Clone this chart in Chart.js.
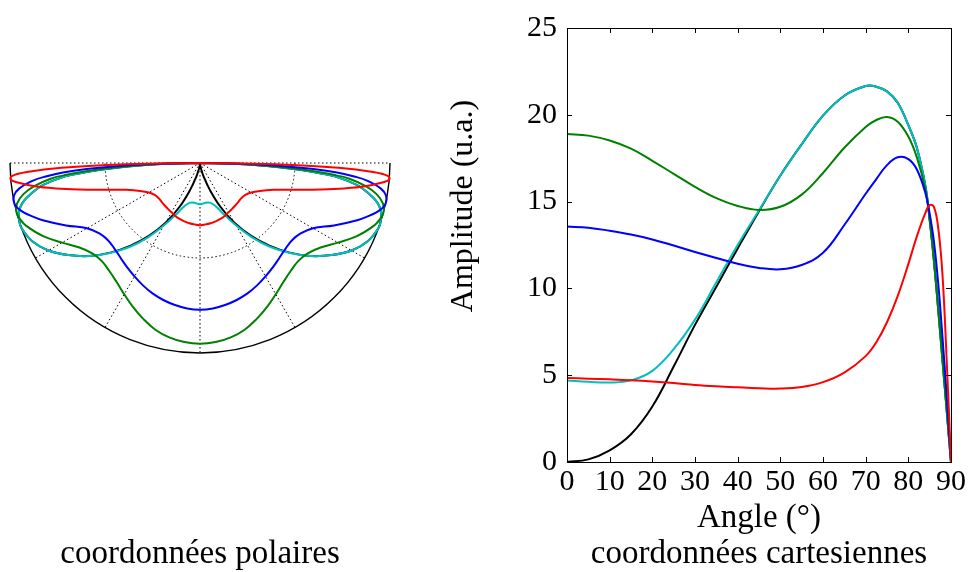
<!DOCTYPE html>
<html>
<head>
<meta charset="utf-8">
<script src="https://cdn.jsdelivr.net/npm/chart.js@4/dist/chart.umd.min.js"></script>
<style>
  html, body { margin: 0; padding: 0; background: #fff; }
  body { width: 968px; height: 572px; position: relative; overflow: hidden; }
  .box { position: absolute; top: 0; height: 572px; }
</style>
</head>
<body>
<div class="box" style="left:0;width:440px"><canvas id="polar"></canvas></div>
<div class="box" style="left:440px;width:528px"><canvas id="cart"></canvas></div>
<script>
// ---- data (angle in degrees, amplitude in u.a.) ----
const angles = [0, 5, 10, 15, 20, 25, 30, 35, 40, 45, 50, 55, 60, 65, 70, 72.5, 75, 77.5, 80, 82, 84, 85, 86, 87, 88, 89, 90];
const seriesBlack = [0, 0.15, 0.67, 1.6, 3.2, 5.5, 7.9, 10.1, 12.3, 14.45, 16.5, 18.3, 19.95, 21.1, 21.66, 21.62, 21.35, 20.7, 19.4, 18.1, 15.9, 14.0, 11.6, 8.8, 5.9, 2.95, 0];
const seriesCyan  = [4.7, 4.62, 4.58, 4.7, 5.25, 6.5, 8.2, 10.35, 12.5, 14.5, 16.5, 18.3, 19.95, 21.1, 21.66, 21.62, 21.35, 20.7, 19.4, 18.1, 15.9, 14.0, 11.6, 8.8, 5.9, 2.95, 0];
const seriesGreen = [18.9, 18.8, 18.52, 18.05, 17.35, 16.6, 15.85, 15.2, 14.75, 14.52, 14.7, 15.4, 16.65, 18.1, 19.3, 19.7, 19.87, 19.6, 18.75, 17.55, 15.7, 13.9, 11.6, 8.8, 5.9, 2.95, 0];
const seriesBlue  = [13.56, 13.5, 13.32, 13.1, 12.82, 12.47, 12.1, 11.75, 11.42, 11.18, 11.1, 11.35, 12.05, 13.65, 15.45, 16.3, 17.1, 17.55, 17.45, 16.85, 15.5, 14.3, 12.7, 10.3, 7.2, 3.8, 0];
const seriesRed   = [4.84, 4.8, 4.76, 4.71, 4.64, 4.55, 4.44, 4.36, 4.3, 4.25, 4.23, 4.32, 4.6, 5.15, 6.1, 6.9, 8.05, 9.55, 11.4, 13.0, 14.35, 14.8, 14.7, 13.5, 10.8, 5.8, 0];

const xTickValues = [0, 10, 20, 30, 40, 50, 60, 70, 80, 90];
const yTickValues = [0, 5, 10, 15, 20, 25];
const polarSpokes = [-60, -30, 0, 30, 60];   // degrees from the downward vertical
const polarRings = [0.5];

const xTitle = 'Angle (°)';
const yTitle = 'Amplitude (u.a.)';
const polarCaption = 'coordonnées polaires';
const cartCaption = 'coordonnées cartesiennes';

const COLORS = { black: '#000000', cyan: '#00bfbf', green: '#008000', blue: '#0000ff', red: '#ff0000' };
const FONT = '"Liberation Serif", "Times New Roman", serif';

Chart.defaults.font.family = FONT;
Chart.defaults.color = '#000';

// series in drawing order (first one ends on top)
const seriesList = [
  { vals: seriesRed, color: COLORS.red },
  { vals: seriesBlue, color: COLORS.blue },
  { vals: seriesGreen, color: COLORS.green },
  { vals: seriesCyan, color: COLORS.cyan },
  { vals: seriesBlack, color: COLORS.black }
];

// ---------- polar chart ----------
function polarPoints(vals) {
  const m = Math.max(...vals);
  const pts = [];
  for (let i = angles.length - 1; i >= 0; i--) {
    const t = angles[i] * Math.PI / 180, r = vals[i] / m;
    pts.push({ x: -r * Math.sin(t), y: -r * Math.cos(t) });
  }
  for (let i = 1; i < angles.length; i++) {
    const t = angles[i] * Math.PI / 180, r = vals[i] / m;
    pts.push({ x: r * Math.sin(t), y: -r * Math.cos(t) });
  }
  return pts;
}

const polarGrid = {
  id: 'polarGrid',
  beforeDatasetsDraw(chart) {
    const { ctx, scales: { x, y } } = chart;
    const cx = x.getPixelForValue(0), cy = y.getPixelForValue(0);
    const R = x.getPixelForValue(1) - cx;
    ctx.save();
    ctx.strokeStyle = '#000';
    ctx.lineWidth = 1;
    ctx.setLineDash([1.5, 2.5]);
    ctx.beginPath();
    ctx.moveTo(x.getPixelForValue(-1), cy);
    ctx.lineTo(x.getPixelForValue(1), cy);
    ctx.stroke();
    polarSpokes.forEach(d => {
      const t = d * Math.PI / 180;
      ctx.beginPath();
      ctx.moveTo(cx, cy);
      ctx.lineTo(x.getPixelForValue(Math.sin(t)), y.getPixelForValue(-Math.cos(t)));
      ctx.stroke();
    });
    polarRings.forEach(r => {
      ctx.beginPath();
      ctx.arc(cx, cy, R * r, 0, Math.PI);
      ctx.stroke();
    });
    ctx.setLineDash([]);
    ctx.lineWidth = 1.4;
    ctx.beginPath();
    ctx.arc(cx, cy, R, 0, Math.PI);
    ctx.stroke();
    ctx.restore();
  }
};

new Chart(document.getElementById('polar'), {
  type: 'scatter',
  data: {
    datasets: seriesList.map(s => ({
      data: polarPoints(s.vals),
      showLine: true,
      borderColor: s.color,
      backgroundColor: s.color,
      borderWidth: 2,
      pointRadius: 0,
      tension: 0.4,
      clip: false
    }))
  },
  options: {
    responsive: true,
    maintainAspectRatio: false,
    animation: false,
    devicePixelRatio: 1,
    layout: { padding: { left: 10, right: 50, top: 163, bottom: 1 } },
    scales: {
      x: { type: 'linear', min: -1, max: 1, display: false },
      y: { type: 'linear', min: -1, max: 0, display: false }
    },
    plugins: {
      legend: { display: false },
      tooltip: { enabled: false },
      title: {
        display: true, position: 'bottom', fullSize: false,
        text: polarCaption, color: '#000',
        font: { family: FONT, size: 33, weight: 'normal', lineHeight: 1.0 },
        padding: { top: 185, bottom: 0 }
      }
    }
  },
  plugins: [polarGrid]
});

// ---------- cartesian chart ----------
const frame = {
  id: 'frame',
  afterDatasetsDraw(chart) {
    const { ctx, chartArea: a, scales: { x, y } } = chart;
    ctx.save();
    ctx.strokeStyle = '#000';
    ctx.lineWidth = 1;
    ctx.strokeRect(Math.round(a.left) + 0.5, Math.round(a.top) + 0.5, Math.round(a.right - a.left), Math.round(a.bottom - a.top));
    ctx.beginPath();
    x.ticks.forEach(t => {
      const p = Math.round(x.getPixelForValue(t.value)) + 0.5;
      ctx.moveTo(p, a.bottom); ctx.lineTo(p, a.bottom - 5);
      ctx.moveTo(p, a.top); ctx.lineTo(p, a.top + 5);
    });
    y.ticks.forEach(t => {
      const p = Math.round(y.getPixelForValue(t.value)) + 0.5;
      ctx.moveTo(a.left, p); ctx.lineTo(a.left + 5, p);
      ctx.moveTo(a.right, p); ctx.lineTo(a.right - 5, p);
    });
    ctx.stroke();
    // y axis title
    ctx.translate(24, 206);
    ctx.rotate(-Math.PI / 2);
    ctx.font = '32px ' + FONT;
    ctx.fillStyle = '#000';
    ctx.textAlign = 'center';
    ctx.textBaseline = 'middle';
    ctx.fillText(yTitle, 0, 0);
    ctx.restore();
  }
};

new Chart(document.getElementById('cart'), {
  type: 'scatter',
  data: {
    datasets: seriesList.map(s => ({
      data: angles.map((a, i) => ({ x: a, y: s.vals[i] })),
      showLine: true,
      borderColor: s.color,
      backgroundColor: s.color,
      borderWidth: 2,
      pointRadius: 0,
      tension: 0.4,
      clip: false
    }))
  },
  options: {
    responsive: true,
    maintainAspectRatio: false,
    animation: false,
    devicePixelRatio: 1,
    layout: { padding: { left: 9, right: 17, top: 25, bottom: 1 } },
    scales: {
      x: {
        type: 'linear', min: 0, max: 90,
        afterBuildTicks: s => { s.ticks = xTickValues.map(v => ({ value: v })); },
        afterFit: s => { s.height = 76; },
        grid: { display: false, drawTicks: false },
        border: { display: false },
        ticks: { font: { family: FONT, size: 30 }, color: '#000', padding: 2, autoSkip: false, maxRotation: 0 },
        title: { display: true, text: xTitle, color: '#000', font: { family: FONT, size: 33 }, padding: 0 }
      },
      y: {
        type: 'linear', min: 0, max: 25,
        afterBuildTicks: s => { s.ticks = yTickValues.map(v => ({ value: v })); },
        afterFit: s => { s.width = 118; },
        grid: { display: false, drawTicks: false },
        border: { display: false },
        ticks: { font: { family: FONT, size: 30 }, color: '#000', padding: 10 }
      }
    },
    plugins: {
      legend: { display: false },
      tooltip: { enabled: false },
      title: {
        display: true, position: 'bottom', fullSize: false,
        text: cartCaption, color: '#000',
        font: { family: FONT, size: 33, weight: 'normal', lineHeight: 1.0 },
        padding: { top: 0, bottom: 0 }
      }
    }
  },
  plugins: [frame]
});
</script>
</body>
</html>
